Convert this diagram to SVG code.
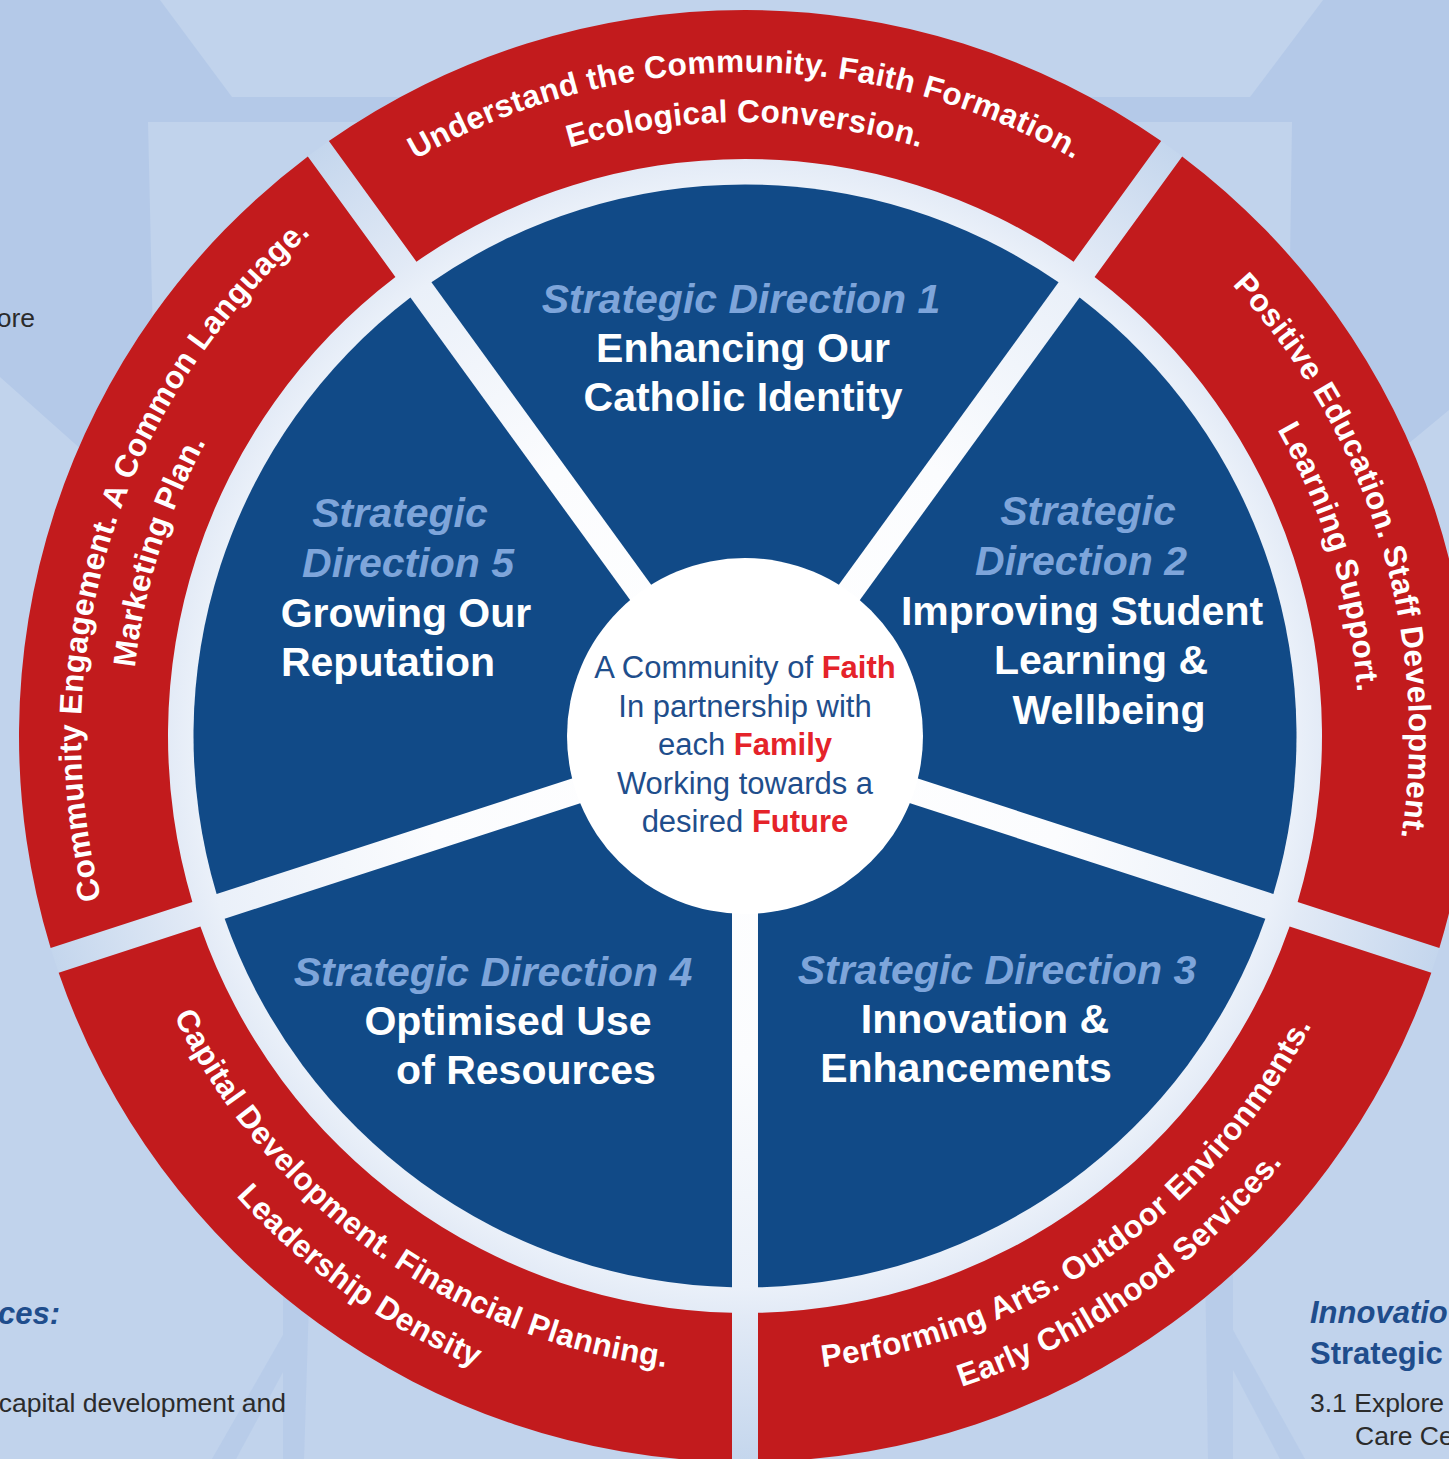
<svg xmlns="http://www.w3.org/2000/svg" width="1449" height="1459" viewBox="0 0 1449 1459">
<defs>
<style>
.bg-d{fill:#b4c9e8}
.bg-l{fill:#c1d3ec}
.blue{fill:#114a87}
.red{fill:#c21b1d}
.t{font-family:"Liberation Sans",Arial,Helvetica,sans-serif}
.sd{font-size:41px;font-weight:bold;font-style:italic;fill:#7ea5da;text-anchor:middle}
.ti{font-size:41px;font-weight:bold;fill:#ffffff;text-anchor:middle}
.rt{font-size:31.5px;font-weight:bold;fill:#ffffff;letter-spacing:0.35px}
.ct{font-size:31px;fill:#1f4e8c;text-anchor:middle}
.ck{font-weight:bold;fill:#e5232a}
.side{font-size:26.5px;fill:#2b2b2b}
.sideh{font-size:31px;font-weight:bold;fill:#1f4d8c}
</style>
<radialGradient id="glow" gradientUnits="userSpaceOnUse" cx="745" cy="736" r="726">
<stop offset="0" stop-color="#ffffff"/>
<stop offset="0.45" stop-color="#fbfcfe"/>
<stop offset="0.76" stop-color="#eaf0f9"/>
<stop offset="0.8" stop-color="#e2eaf6"/>
<stop offset="1" stop-color="#c4d6ed"/>
</radialGradient>
<path id="p-top1" d="M91.09,620.7 A664,664 0 0 1 1398.91,620.7"/>
<path id="p-top2" d="M140.33,629.38 A614,614 0 0 1 1349.67,629.38"/>
<path id="p-r1" d="M664.08,76.95 A664,664 0 0 1 1046.45,1327.63"/>
<path id="p-r2" d="M670.17,126.58 A614,614 0 0 1 1023.75,1283.08"/>
<path id="p-l1" d="M438.4,1324.98 A664,664 0 0 1 831.67,77.68"/>
<path id="p-l2" d="M461.49,1280.62 A614,614 0 0 1 825.14,127.25"/>
<path id="p-br1" d="M295.28,1185.72 A636,636 0 0 0 1321.41,467.21"/>
<path id="p-br2" d="M259.92,1221.08 A686,686 0 0 0 1366.73,446.08"/>
<path id="p-bl1" d="M170.96,462.2 A636,636 0 0 0 1190.78,1189.63"/>
<path id="p-bl2" d="M125.83,440.67 A686,686 0 0 0 1225.82,1225.29"/>
</defs>

<g id="background">
<rect class="bg-d" width="1449" height="1459"/>
<polygon class="bg-l" points="160,0 1323,0 1250,97 232,97"/>
<polygon class="bg-l" points="148,122 1292,122 1286,545 1449,410 1449,1459 0,1459 0,377 157,517"/>
<polygon class="bg-d" opacity="0.7" points="283,1268 310,1268 304,1459 283,1459"/>
<polygon class="bg-d" opacity="0.7" points="283,1335 283,1372 236,1459 212,1459"/>
<polygon class="bg-d" opacity="0.7" points="1205,1255 1233,1255 1233,1459 1208,1459"/>
<polygon class="bg-d" opacity="0.7" points="1233,1330 1233,1370 1280,1459 1305,1459"/>
<text class="t side" x="35" y="327" text-anchor="end">ore</text>
<text class="t sideh" x="60" y="1324" text-anchor="end" font-style="italic">ces:</text>
<text class="t side" x="286" y="1412" text-anchor="end">capital development and</text>
<text class="t sideh" x="1310" y="1323" font-style="italic">Innovatio</text>
<text class="t sideh" x="1310" y="1364">Strategic</text>
<text class="t side" x="1310" y="1412">3.1 Explore</text>
<text class="t side" x="1355" y="1445">Care Ce</text>
</g>

<circle id="glow-ring" cx="745" cy="736" r="726" fill="url(#glow)"/>

<g id="ring-top">
<path class="red" d="M416.45,261.67 A577,577 0 0 1 1073.55,261.67 L1161.15,141.11 A726,726 0 0 0 328.85,141.11 Z"/>
<text class="t rt"><textPath href="#p-top1" startOffset="50%" text-anchor="middle">Understand the Community. Faith Formation.</textPath></text>
<text class="t rt"><textPath href="#p-top2" startOffset="50%" text-anchor="middle">Ecological Conversion.</textPath></text>
</g>
<g id="ring-right">
<path class="red" d="M1094.58,276.96 A577,577 0 0 1 1297.64,901.89 L1439.37,947.95 A726,726 0 0 0 1182.18,156.39 Z"/>
<text class="t rt"><textPath href="#p-r1" startOffset="50%" text-anchor="middle">Positive Education. Staff Development.</textPath></text>
<text class="t rt"><textPath href="#p-r2" startOffset="50%" text-anchor="middle">Learning Support.</textPath></text>
</g>
<g id="ring-bottom-right">
<path class="red" d="M1289.6,926.62 A577,577 0 0 1 758,1312.85 L758,1461.88 A726,726 0 0 0 1431.34,972.67 Z"/>
<text class="t rt"><textPath href="#p-br1" startOffset="50%" text-anchor="middle">Performing Arts. Outdoor Environments.</textPath></text>
<text class="t rt"><textPath href="#p-br2" startOffset="50%" text-anchor="middle">Early Childhood Services.</textPath></text>
</g>
<g id="ring-bottom-left">
<path class="red" d="M732,1312.85 A577,577 0 0 1 200.4,926.62 L58.66,972.67 A726,726 0 0 0 732,1461.88 Z"/>
<text class="t rt"><textPath href="#p-bl1" startOffset="50%" text-anchor="middle">Capital Development. Financial Planning.</textPath></text>
<text class="t rt"><textPath href="#p-bl2" startOffset="50%" text-anchor="middle">Leadership Density</textPath></text>
</g>
<g id="ring-left">
<path class="red" d="M192.36,901.89 A577,577 0 0 1 395.42,276.96 L307.82,156.39 A726,726 0 0 0 50.63,947.95 Z"/>
<text class="t rt"><textPath href="#p-l1" startOffset="50%" text-anchor="middle">Community Engagement. A Common Language.</textPath></text>
<text class="t rt"><textPath href="#p-l2" startOffset="50%" text-anchor="middle">Marketing Plan.</textPath></text>
</g>

<g id="sd1">
<path class="blue" d="M745,713.9 L431.44,282.3 A551.5,551.5 0 0 1 1058.56,282.3 Z"/>
<text class="t sd" x="741" y="313">Strategic Direction 1</text>
<text class="t ti" x="743" y="362">Enhancing Our</text>
<text class="t ti" x="743" y="411">Catholic Identity</text>
</g>
<g id="sd2">
<path class="blue" d="M766.02,729.17 L1079.59,297.59 A551.5,551.5 0 0 1 1273.38,894.01 Z"/>
<text class="t sd" x="1088" y="525">Strategic</text>
<text class="t sd" x="1081" y="575">Direction 2</text>
<text class="t ti" x="1082" y="625">Improving Student</text>
<text class="t ti" x="1101" y="674">Learning &amp;</text>
<text class="t ti" x="1109" y="724">Wellbeing</text>
</g>
<g id="sd3">
<path class="blue" d="M757.99,753.88 L1265.34,918.74 A551.5,551.5 0 0 1 758,1287.35 Z"/>
<text class="t sd" x="997" y="984">Strategic Direction 3</text>
<text class="t ti" x="985" y="1033">Innovation &amp;</text>
<text class="t ti" x="966" y="1082">Enhancements</text>
</g>
<g id="sd4">
<path class="blue" d="M732.01,753.88 L732,1287.35 A551.5,551.5 0 0 1 224.66,918.74 Z"/>
<text class="t sd" x="493" y="986">Strategic Direction 4</text>
<text class="t ti" x="508" y="1035">Optimised Use</text>
<text class="t ti" x="526" y="1084">of Resources</text>
</g>
<g id="sd5">
<path class="blue" d="M723.98,729.17 L216.62,894.01 A551.5,551.5 0 0 1 410.41,297.59 Z"/>
<text class="t sd" x="400" y="527">Strategic</text>
<text class="t sd" x="408" y="577">Direction 5</text>
<text class="t ti" x="406" y="627">Growing Our</text>
<text class="t ti" x="388" y="676">Reputation</text>
</g>

<g id="center">
<circle cx="745" cy="736" r="178" fill="#ffffff"/>
<text class="t ct" x="745" y="678">A Community of <tspan class="ck">Faith</tspan></text>
<text class="t ct" x="745" y="717">In partnership with</text>
<text class="t ct" x="745" y="755">each <tspan class="ck">Family</tspan></text>
<text class="t ct" x="745" y="794">Working towards a</text>
<text class="t ct" x="745" y="832">desired <tspan class="ck">Future</tspan></text>
</g>

<g id="connectors"/>
</svg>
